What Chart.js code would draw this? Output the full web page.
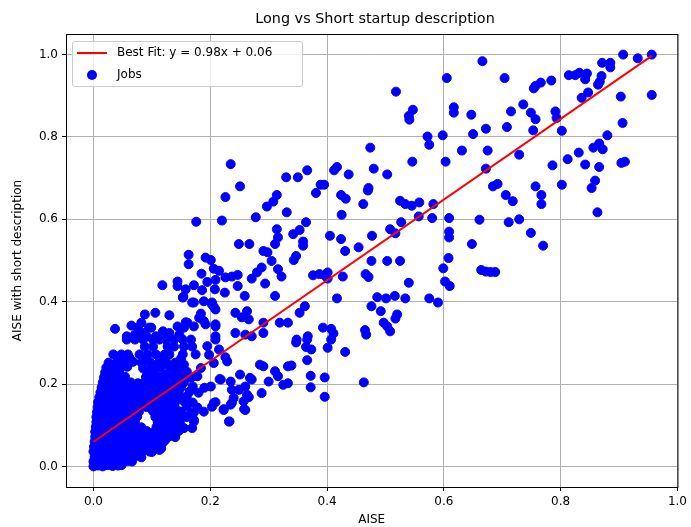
<!DOCTYPE html>
<html lang="en">
<head>
<meta charset="UTF-8">
<title>Long vs Short startup description</title>
<script src="https://cdn.jsdelivr.net/npm/chart.js"></script>
<style>
  body { margin: 0; background: #fff; font-family: "DejaVu Sans", sans-serif; }
  #wrap { position: relative; width: 691px; height: 527px; }
  #title { position: absolute; left: 66px; width: 618px; top: 10px; text-align: center; font-size: 14.4px; color: #000; }
  #legend { position: absolute; left: 72px; top: 41px; width: 229px; height: 44px; border: 1px solid #cccccc;
            border-radius: 3px; background: rgba(255,255,255,0.8); font-size: 12px; color: #000; }
  .row { position: absolute; left: 0; height: 20px; width: 100%; }
  .row span { position: absolute; left: 44px; top: 2px; white-space: nowrap; }
  .swatch-line { position: absolute; left: 4px; top: 9px; width: 30px; height: 2px; background: #ff0000; }
  .swatch-dot { position: absolute; left: 14px; top: 5px; width: 10px; height: 10px; border-radius: 50%; background: #0000ff; }
</style>
</head>
<body>
<div id="wrap">
  <canvas id="chart" width="691" height="527"></canvas>
  <div id="title">Long vs Short startup description</div>
  <div id="legend">
    <div class="row" style="top:1px"><div class="swatch-line"></div><span>Best Fit: y = 0.98x + 0.06</span></div>
    <div class="row" style="top:23px"><div class="swatch-dot"></div><span>Jobs</span></div>
  </div>
</div>
<script>
// tick values
const xTicks = [0, 0.2, 0.4, 0.6, 0.8, 1.0];
const yTicks = [0, 0.2, 0.4, 0.6, 0.8, 1.0];

// fitted line end points (y = 0.98x + 0.06)
const fitLine = [[0, 0.06], [0.956, 0.997]];

// scattered jobs, upper part
const jobsHigh = [
  [0.235,0.734],[0.251,0.680],[0.330,0.702],[0.518,0.910],[0.605,0.943],[0.666,0.984],[0.547,0.866],
  [0.540,0.851],[0.541,0.842],[0.617,0.872],[0.617,0.859],[0.647,0.854],[0.672,0.820],[0.572,0.801],
  [0.575,0.781],[0.598,0.804],[0.650,0.807],[0.474,0.774],[0.631,0.767],[0.675,0.767],[0.546,0.740],
  [0.603,0.740],[0.672,0.723],[0.366,0.719],[0.350,0.702],[0.412,0.719],[0.417,0.727],[0.437,0.709],
  [0.480,0.723],[0.503,0.709],[0.389,0.684],[0.395,0.684],[0.471,0.676],
  [0.907,1.000],[0.956,1.000],[0.932,0.991],[0.871,0.980],[0.885,0.980],[0.885,0.969],[0.704,0.943],
  [0.814,0.950],[0.825,0.950],[0.832,0.956],[0.845,0.954],[0.842,0.940],[0.870,0.948],[0.867,0.934],
  [0.864,0.927],[0.784,0.937],[0.754,0.918],[0.757,0.924],[0.766,0.932],[0.847,0.908],[0.836,0.895],
  [0.903,0.898],[0.956,0.902],[0.736,0.879],[0.715,0.862],[0.749,0.859],[0.757,0.843],[0.791,0.862],
  [0.793,0.846],[0.906,0.834],[0.708,0.824],[0.753,0.816],[0.802,0.815],[0.880,0.804],[0.729,0.757],
  [0.866,0.784],[0.856,0.774],[0.872,0.770],[0.831,0.762],[0.812,0.746],[0.786,0.731],[0.842,0.733],
  [0.866,0.727],[0.904,0.737],[0.910,0.740],[0.859,0.694],[0.692,0.686],[0.684,0.680],[0.757,0.680],
  [0.802,0.684],[0.853,0.676],
  [0.706,0.659],[0.718,0.644],[0.767,0.659],[0.767,0.637],[0.863,0.617],[0.711,0.593],[0.729,0.600],
  [0.749,0.567],[0.770,0.536],[0.664,0.477],[0.672,0.473],[0.680,0.472],[0.688,0.472]
];

// scattered jobs, middle part
const jobsMid = [
  [0.381,0.664],[0.424,0.659],[0.432,0.650],[0.470,0.670],[0.462,0.637],[0.525,0.645],[0.534,0.637],
  [0.545,0.633],[0.558,0.641],[0.582,0.637],[0.331,0.617],[0.425,0.611],[0.557,0.607],[0.580,0.603],
  [0.609,0.603],[0.661,0.599],[0.364,0.593],[0.527,0.593],[0.353,0.574],[0.342,0.564],[0.405,0.560],
  [0.424,0.552],[0.477,0.560],[0.508,0.576],[0.517,0.566],[0.609,0.570],[0.609,0.556],[0.359,0.546],
  [0.359,0.536],[0.648,0.540],[0.431,0.523],[0.454,0.532],[0.347,0.511],[0.343,0.501],[0.476,0.499],
  [0.503,0.499],[0.525,0.499],[0.608,0.506],[0.599,0.481],
  [0.376,0.464],[0.387,0.467],[0.396,0.464],[0.401,0.471],[0.401,0.456],[0.427,0.461],[0.466,0.467],
  [0.471,0.460],[0.540,0.446],[0.602,0.449],[0.610,0.438],[0.417,0.408],[0.486,0.411],[0.501,0.408],
  [0.516,0.414],[0.534,0.408],[0.575,0.408],[0.590,0.398],[0.362,0.389],[0.353,0.373],[0.333,0.349],
  [0.476,0.389],[0.492,0.377],[0.520,0.369],[0.517,0.359],[0.497,0.349],[0.503,0.340],[0.508,0.328],
  [0.393,0.337],[0.407,0.334],[0.411,0.323],[0.367,0.316],[0.348,0.308],[0.465,0.331],[0.467,0.320],
  [0.347,0.301],[0.366,0.308],[0.407,0.308],[0.401,0.288],[0.364,0.290],[0.373,0.284],[0.431,0.278],
  [0.339,0.245],[0.366,0.258],[0.372,0.220],[0.372,0.192],[0.396,0.216],[0.396,0.169],[0.463,0.204],
  [0.333,0.202],
  [0.226,0.654],[0.314,0.659],[0.308,0.643],[0.297,0.631],[0.176,0.594],[0.220,0.597],[0.278,0.605],
  [0.314,0.576],[0.316,0.556],[0.311,0.540],[0.249,0.540],[0.267,0.540],[0.291,0.523],[0.298,0.520],
  [0.163,0.514],[0.163,0.491],[0.192,0.507],[0.201,0.501],[0.305,0.499],[0.288,0.483],[0.280,0.471],
  [0.271,0.456],[0.316,0.479],[0.322,0.461],[0.206,0.480],[0.215,0.475],[0.185,0.468],[0.226,0.459],
  [0.237,0.461],[0.247,0.465],[0.144,0.449],[0.195,0.448],[0.209,0.453],[0.118,0.440],[0.158,0.430],
  [0.172,0.440],[0.208,0.430],[0.225,0.422],[0.247,0.438],[0.294,0.444],[0.154,0.412],[0.259,0.414],
  [0.311,0.414],[0.172,0.398],[0.189,0.401],[0.203,0.398],[0.206,0.388],[0.106,0.373],[0.088,0.369],
  [0.130,0.367],[0.184,0.371],[0.181,0.361],[0.189,0.353],[0.192,0.345],[0.243,0.373],[0.263,0.377],
  [0.254,0.362],[0.266,0.357],[0.158,0.350],[0.172,0.340],[0.144,0.340],[0.065,0.342],[0.082,0.349],
  [0.095,0.337],[0.037,0.334],[0.209,0.345],[0.291,0.349],[0.291,0.324],[0.319,0.349],[0.119,0.328],
  [0.130,0.324],[0.147,0.320],[0.243,0.324],[0.260,0.320],[0.271,0.316],[0.057,0.316],[0.074,0.316],
  [0.091,0.316],[0.107,0.316],[0.209,0.316],[0.144,0.438],[0.186,0.428],[0.153,0.410],[0.169,0.398],
  [0.203,0.393],[0.209,0.381],[0.076,0.337],[0.099,0.337],[0.085,0.324],[0.071,0.320],[0.155,0.337],
  [0.161,0.349],[0.209,0.340],[0.209,0.308],[0.195,0.292],[0.198,0.271]
];

// scattered jobs, lower part around the dense cluster
const jobsLow = [
  [0.057,0.308],[0.071,0.308],[0.085,0.308],[0.102,0.308],[0.113,0.308],[0.124,0.308],[0.138,0.308],
  [0.153,0.308],[0.167,0.308],[0.088,0.291],[0.102,0.291],[0.127,0.291],[0.138,0.291],[0.155,0.291],
  [0.169,0.291],[0.034,0.272],[0.048,0.272],[0.059,0.272],[0.079,0.272],[0.093,0.272],[0.107,0.272],
  [0.122,0.272],[0.130,0.272],[0.153,0.272],[0.175,0.272],[0.226,0.265],[0.229,0.255],[0.215,0.284],
  [0.206,0.251],[0.184,0.239],[0.155,0.247],[0.138,0.227],[0.124,0.223],[0.167,0.215],[0.178,0.219],
  [0.285,0.247],[0.251,0.223],[0.268,0.215],[0.201,0.194],[0.218,0.211],[0.235,0.206],
  [0.291,0.243],[0.311,0.231],[0.316,0.219],[0.325,0.198],[0.333,0.243],[0.271,0.211],[0.300,0.206],
  [0.216,0.212],[0.237,0.186],[0.249,0.186],[0.260,0.194],[0.288,0.178],[0.266,0.168],[0.237,0.154],
  [0.257,0.158],[0.206,0.154],[0.223,0.139],[0.258,0.139],[0.233,0.109],[0.189,0.133],[0.147,0.133],
  [0.172,0.131],[0.158,0.121],[0.172,0.113],[0.169,0.093],[0.138,0.093],[0.124,0.105],[0.123,0.064],
  [0.113,0.040],[0.096,0.036],[0.079,0.032],[0.048,0.003],
  [0.150,0.133],[0.167,0.129],[0.172,0.109],[0.203,0.145],[0.209,0.156],[0.223,0.137],[0.235,0.150],
  [0.260,0.137],[0.232,0.109],[0.240,0.166],[0.263,0.174],[0.155,0.093],[0.122,0.068],[0.116,0.044]
];

// the crowded cluster near the origin
const jobsDense = [
  [0.000,0.000],[0.008,0.002],[0.016,0.000],[0.024,0.003],[0.033,0.001],[0.042,0.002],
  [0.000,0.012],[0.009,0.014],[0.018,0.011],[0.028,0.013],[0.037,0.012],[0.047,0.010],[0.058,0.013],[0.066,0.012],
  [0.002,0.024],[0.011,0.026],[0.020,0.023],[0.030,0.025],[0.040,0.024],[0.050,0.022],[0.060,0.025],[0.071,0.024],[0.082,0.022],
  [0.000,0.036],[0.010,0.037],[0.019,0.035],[0.029,0.038],[0.039,0.036],[0.049,0.034],[0.058,0.037],[0.068,0.036],[0.085,0.038],[0.100,0.035],
  [0.001,0.048],[0.011,0.049],[0.021,0.047],[0.031,0.050],[0.041,0.048],[0.052,0.046],[0.062,0.049],[0.073,0.048],[0.084,0.050],[0.095,0.047],[0.106,0.049],
  [0.002,0.060],[0.012,0.061],[0.022,0.059],[0.033,0.062],[0.043,0.060],[0.054,0.058],[0.065,0.061],[0.076,0.060],[0.087,0.062],[0.098,0.059],[0.110,0.061],[0.119,0.058],
  [0.003,0.072],[0.013,0.073],[0.024,0.071],[0.035,0.074],[0.046,0.072],[0.057,0.070],[0.068,0.073],[0.079,0.072],[0.090,0.074],[0.101,0.071],[0.116,0.074],[0.130,0.073],[0.140,0.071],
  [0.003,0.084],[0.014,0.085],[0.025,0.083],[0.036,0.086],[0.047,0.084],[0.058,0.082],[0.069,0.085],[0.080,0.084],[0.091,0.086],[0.103,0.083],[0.115,0.085],[0.127,0.084],[0.137,0.082],[0.146,0.086],
  [0.004,0.096],[0.015,0.097],[0.026,0.095],[0.037,0.098],[0.048,0.096],[0.059,0.094],[0.070,0.097],[0.082,0.095],[0.108,0.096],[0.120,0.098],[0.132,0.095],[0.150,0.097],
  [0.005,0.108],[0.016,0.109],[0.027,0.107],[0.038,0.110],[0.049,0.108],[0.060,0.106],[0.071,0.109],[0.110,0.108],[0.122,0.110],[0.135,0.107],[0.148,0.109],
  [0.005,0.120],[0.016,0.121],[0.028,0.119],[0.040,0.122],[0.052,0.120],[0.064,0.118],[0.075,0.121],[0.106,0.120],[0.118,0.122],[0.130,0.119],[0.142,0.121],[0.160,0.120],
  [0.006,0.132],[0.018,0.133],[0.030,0.131],[0.042,0.134],[0.054,0.132],[0.066,0.130],[0.078,0.133],[0.102,0.134],[0.114,0.131],[0.126,0.133],[0.138,0.132],
  [0.007,0.144],[0.019,0.145],[0.031,0.143],[0.043,0.146],[0.055,0.144],[0.067,0.142],[0.079,0.145],[0.091,0.144],[0.103,0.146],[0.115,0.143],[0.127,0.145],[0.139,0.144],[0.160,0.146],[0.178,0.143],
  [0.008,0.156],[0.020,0.157],[0.032,0.155],[0.044,0.158],[0.056,0.156],[0.068,0.154],[0.080,0.157],[0.092,0.156],[0.104,0.158],[0.116,0.155],[0.128,0.157],[0.140,0.156],[0.155,0.158],[0.170,0.155],
  [0.010,0.168],[0.022,0.169],[0.034,0.167],[0.046,0.170],[0.058,0.168],[0.070,0.166],[0.082,0.169],[0.094,0.168],[0.106,0.170],[0.118,0.167],[0.130,0.169],[0.145,0.168],[0.160,0.170],
  [0.012,0.180],[0.024,0.181],[0.036,0.179],[0.048,0.182],[0.060,0.180],[0.072,0.178],[0.084,0.181],[0.096,0.180],[0.108,0.182],[0.120,0.179],[0.132,0.181],[0.146,0.180],[0.165,0.182],[0.180,0.179],
  [0.014,0.192],[0.026,0.193],[0.038,0.191],[0.050,0.194],[0.062,0.192],[0.074,0.190],[0.086,0.193],[0.098,0.192],[0.110,0.194],[0.122,0.191],[0.136,0.193],[0.150,0.192],[0.170,0.194],[0.190,0.191],
  [0.016,0.204],[0.028,0.205],[0.040,0.203],[0.052,0.206],[0.064,0.204],[0.076,0.202],[0.088,0.205],[0.100,0.204],[0.112,0.206],[0.124,0.203],[0.140,0.205],[0.155,0.204],
  [0.018,0.216],[0.030,0.217],[0.042,0.215],[0.054,0.218],[0.090,0.217],[0.102,0.216],[0.114,0.218],[0.136,0.217],[0.150,0.215],[0.163,0.218],
  [0.020,0.228],[0.032,0.229],[0.044,0.227],[0.092,0.229],[0.104,0.228],[0.146,0.229],[0.160,0.230],
  [0.022,0.240],[0.034,0.241],[0.046,0.239],[0.058,0.242],[0.085,0.238],[0.100,0.241],[0.115,0.240],[0.130,0.242],[0.145,0.240],
  [0.026,0.252],[0.040,0.253],[0.055,0.251],[0.068,0.254],[0.082,0.252],[0.096,0.254],[0.110,0.250],[0.125,0.253],[0.140,0.252],
  [0.045,0.262],[0.062,0.263],[0.090,0.261],[0.120,0.263],[0.150,0.262]
];

const toXY = arr => arr.map(p => ({ x: p[0], y: p[1] }));
const allJobs = [].concat(jobsHigh, jobsMid, jobsLow, jobsDense);

// box round the plot, like matplotlib spines
const frame = {
  id: 'frame',
  afterDraw(chart) {
    const { ctx, chartArea: a } = chart;
    ctx.save();
    ctx.strokeStyle = '#000';
    ctx.lineWidth = 1;
    ctx.strokeRect(a.left + 0.5, a.top + 0.5, a.right - a.left, a.bottom - a.top);
    ctx.restore();
  }
};

const font = { family: 'DejaVu Sans', size: 12 };

new Chart(document.getElementById('chart'), {
  type: 'scatter',
  data: {
    datasets: [{
      type: 'line',
      label: 'Best Fit: y = 0.98x + 0.06',
      data: toXY(fitLine),
      borderColor: '#ff0000',
      borderWidth: 2,
      pointRadius: 0,
      fill: false
    }, {
      label: 'Jobs',
      data: toXY(allJobs),
      backgroundColor: '#0000ff',
      borderColor: '#0000ff',
      pointBorderColor: '#0000ff',
      pointBorderWidth: 1,
      pointRadius: 4.5,
      pointHoverRadius: 4.5
    }]
  },
  options: {
    responsive: false,
    animation: false,
    events: [],
    layout: { padding: { top: 34, right: 7, left: 0, bottom: 0 } },
    plugins: { legend: { display: false }, tooltip: { enabled: false } },
    scales: {
      x: {
        type: 'linear',
        min: -0.047,
        max: 1.0,
        afterBuildTicks: ax => { ax.ticks = xTicks.map(v => ({ value: v })); },
        afterFit: ax => { ax.height = 40; },
        ticks: { font, color: '#000', padding: 4, maxRotation: 0, callback: v => v.toFixed(1) },
        grid: { color: '#b0b0b0', lineWidth: 1, tickLength: 4, tickColor: '#000' },
        border: { color: '#000', width: 1 },
        title: { display: true, text: 'AISE', font, color: '#000', padding: { top: 0, bottom: 0 } }
      },
      y: {
        type: 'linear',
        min: -0.05,
        max: 1.05,
        afterBuildTicks: ax => { ax.ticks = yTicks.map(v => ({ value: v })); },
        afterFit: ax => { ax.width = 66; },
        ticks: { font, color: '#000', padding: 4, callback: v => v.toFixed(1) },
        grid: { color: '#b0b0b0', lineWidth: 1, tickLength: 4, tickColor: '#000' },
        border: { color: '#000', width: 1 },
        title: { display: true, text: 'AISE with short description', font, color: '#000', padding: { top: 11, bottom: 0 } }
      }
    }
  },
  plugins: [frame]
});
</script>
</body>
</html>
